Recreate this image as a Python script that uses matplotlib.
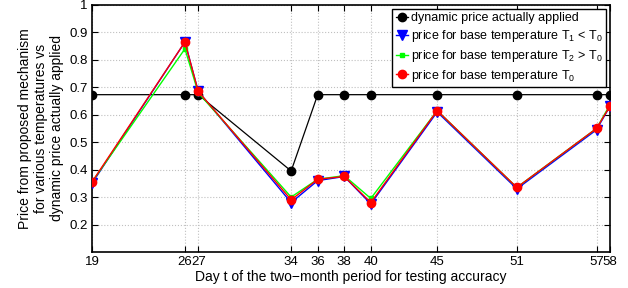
import matplotlib
matplotlib.use("Agg")
import matplotlib.pyplot as plt
from matplotlib.transforms import ScaledTranslation

days = [19, 26, 27, 34, 36, 38, 40, 45, 51, 57, 58]
price_applied = [0.673, 0.673, 0.673, 0.395, 0.673, 0.673, 0.673, 0.673, 0.673, 0.673, 0.673]
price_t1 = [0.350, 0.865, 0.685, 0.280, 0.360, 0.375, 0.275, 0.610, 0.330, 0.545, 0.630]
price_t2 = [0.355, 0.840, 0.680, 0.300, 0.365, 0.378, 0.295, 0.615, 0.335, 0.550, 0.635]
price_t0 = [0.355, 0.865, 0.685, 0.290, 0.365, 0.375, 0.280, 0.615, 0.335, 0.550, 0.630]
tick_labels = ["19", "26", "27", "34", "36", "38", "40", "45", "51", "57", "58"]

plt.rcParams["font.family"] = ["Liberation Sans", "DejaVu Sans"]
plt.rcParams["mathtext.fontset"] = "custom"
plt.rcParams["mathtext.rm"] = "Liberation Sans"
plt.rcParams["mathtext.it"] = "Liberation Sans"
fig = plt.figure(figsize=(6.28, 2.88), dpi=100)
ax = fig.add_axes([0.1465, 0.125, 0.8245, 0.858])

ax.plot(days, price_applied, color="black", lw=0.9, marker="o", ms=6,
        label="dynamic price actually applied", zorder=3)
ax.plot(days, price_t1, color="blue", lw=1.0, marker="v", ms=7,
        label="price for base temperature T$_1$ < T$_0$", zorder=4)
ax.plot(days, price_t2, color="#00ff00", lw=1.0, marker="s", ms=3,
        label="price for base temperature T$_2$ > T$_0$", zorder=5)
ax.plot(days, price_t0, color="red", lw=1.0, marker="o", ms=6,
        label="price for base temperature T$_0$", zorder=6)

ax.set_xlim(19, 58)
ax.set_ylim(0.1, 1.0)
ax.set_xticks(days)
ax.set_xticklabels(tick_labels, fontsize=9.5)
# adjacent days: nudge labels slightly apart so they read "2627" / "5758"
for lab in ax.get_xticklabels():
    if lab.get_text() in ("26", "57"):
        lab.set_transform(lab.get_transform() + ScaledTranslation(-1.5 / 72, 0, fig.dpi_scale_trans))
    elif lab.get_text() in ("27", "58"):
        lab.set_transform(lab.get_transform() + ScaledTranslation(1.5 / 72, 0, fig.dpi_scale_trans))
ax.set_yticks([0.2, 0.3, 0.4, 0.5, 0.6, 0.7, 0.8, 0.9, 1.0])
ax.set_yticklabels(["0.2", "0.3", "0.4", "0.5", "0.6", "0.7", "0.8", "0.9", "1"], fontsize=9.5)
ax.tick_params(direction="in", length=4, width=0.8, top=True, right=True, pad=3)
ax.grid(True, color="#c0c0c0", linestyle=":", linewidth=0.8)
for s in ax.spines.values():
    s.set_linewidth(1.2)

ax.set_xlabel("Day t of the two\u2212month period for testing accuracy", fontsize=10, labelpad=1)
ax.set_ylabel("Price from proposed mechanism\nfor various temperatures vs\ndynamic price actually applied",
              fontsize=10, labelpad=4)

leg = ax.legend(loc="upper right", fontsize=9, handlelength=1.0, handletextpad=0.2,
                borderpad=0.3, labelspacing=0.3, fancybox=False, framealpha=1,
                borderaxespad=0.3)
leg.get_frame().set_edgecolor("black")
leg.get_frame().set_linewidth(1.0)

fig.savefig("out.png", dpi=100)
